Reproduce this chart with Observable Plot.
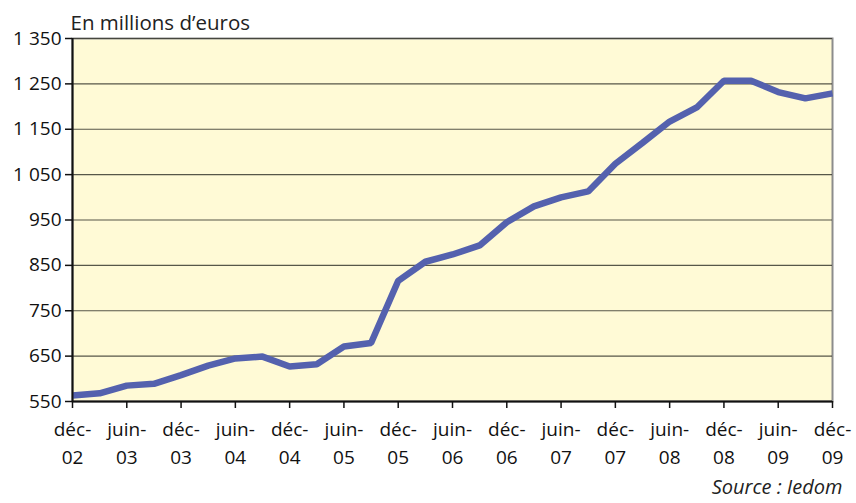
<!DOCTYPE html>
<html>
<head>
<meta charset="utf-8">
<script src="https://cdn.jsdelivr.net/npm/d3@7"></script>
<script src="https://cdn.jsdelivr.net/npm/@observablehq/plot@0.6"></script>
<style>
  html, body { margin: 0; padding: 0; background: #fff; }
  #chart { width: 856px; height: 503px; }
</style>
</head>
<body>
<div id="chart"></div>
<script>
const periods = [
  "déc-02","mars-03","juin-03","sept-03","déc-03","mars-04","juin-04","sept-04",
  "déc-04","mars-05","juin-05","sept-05","déc-05","mars-06","juin-06","sept-06",
  "déc-06","mars-07","juin-07","sept-07","déc-07","mars-08","juin-08","sept-08",
  "déc-08","mars-09","juin-09","sept-09","déc-09"
];
const values = [
  563, 568, 585, 589, 608, 629, 645, 649,
  627, 632, 671, 679, 816, 858, 874, 894,
  945, 980, 1000, 1013, 1074, 1120, 1167, 1198,
  1257, 1257, 1232, 1218, 1229
];
const yTicks = [550, 650, 750, 850, 950, 1050, 1150, 1250, 1350];
const titleText = "En millions d’euros";
const sourceText = "Source : Iedom";

const data = periods.map((p, i) => ({i, period: p, value: values[i]}));
const xTicks = periods.map((p, i) => i).filter(i => i % 2 === 0);
const fmtY = v => v >= 1000 ? `${Math.floor(v / 1000)} ${String(v % 1000).padStart(3, "0")}` : String(v);
const fmtX = i => periods[i].replace("-", "-\n");

const font = "'Open Sans', Lato, sans-serif";

const chart = Plot.plot({
  width: 856,
  height: 503,
  marginLeft: 72,
  marginRight: 24,
  marginTop: 38,
  marginBottom: 102,
  style: {fontFamily: font, fontSize: "19px", color: "#111", background: "#fff"},
  x: {type: "linear", domain: [0, periods.length - 1]},
  y: {domain: [550, 1350]},
  marks: [
    Plot.frame({fill: "#fffad6", stroke: "#8c8c8c", strokeWidth: 2}),
    Plot.gridY(yTicks, {stroke: "#3a3a30", strokeOpacity: 0.85, strokeWidth: 1.2}),
    Plot.lineY(data, {x: "i", y: "value", stroke: "#5461ae", strokeWidth: 6.5, strokeLinejoin: "miter", strokeLinecap: "butt"}),
    Plot.ruleX([0], {stroke: "#111", strokeWidth: 2}),
    Plot.ruleY([550], {stroke: "#111", strokeWidth: 2}),
    Plot.axisY({ticks: yTicks, tickFormat: fmtY, tickSize: 7, tickPadding: 4, fontSize: 19, stroke: "#111", strokeWidth: 1.5, label: null}),
    Plot.axisX({ticks: xTicks, tickFormat: fmtX, tickSize: 7, tickPadding: 8, fontSize: 19, lineHeight: 1.45, stroke: "#111", strokeWidth: 1.5, label: null}),
    Plot.text([titleText], {frameAnchor: "top-left", text: d => d, dy: -23, dx: -2, fontSize: 20.5, fill: "#222", textAnchor: "start"}),
    Plot.text([sourceText], {frameAnchor: "bottom-right", text: d => d, dy: 92, dx: 10, fontSize: 20, fontStyle: "italic", fill: "#222", textAnchor: "end"})
  ]
});
document.getElementById("chart").appendChild(chart);
</script>
</body>
</html>
